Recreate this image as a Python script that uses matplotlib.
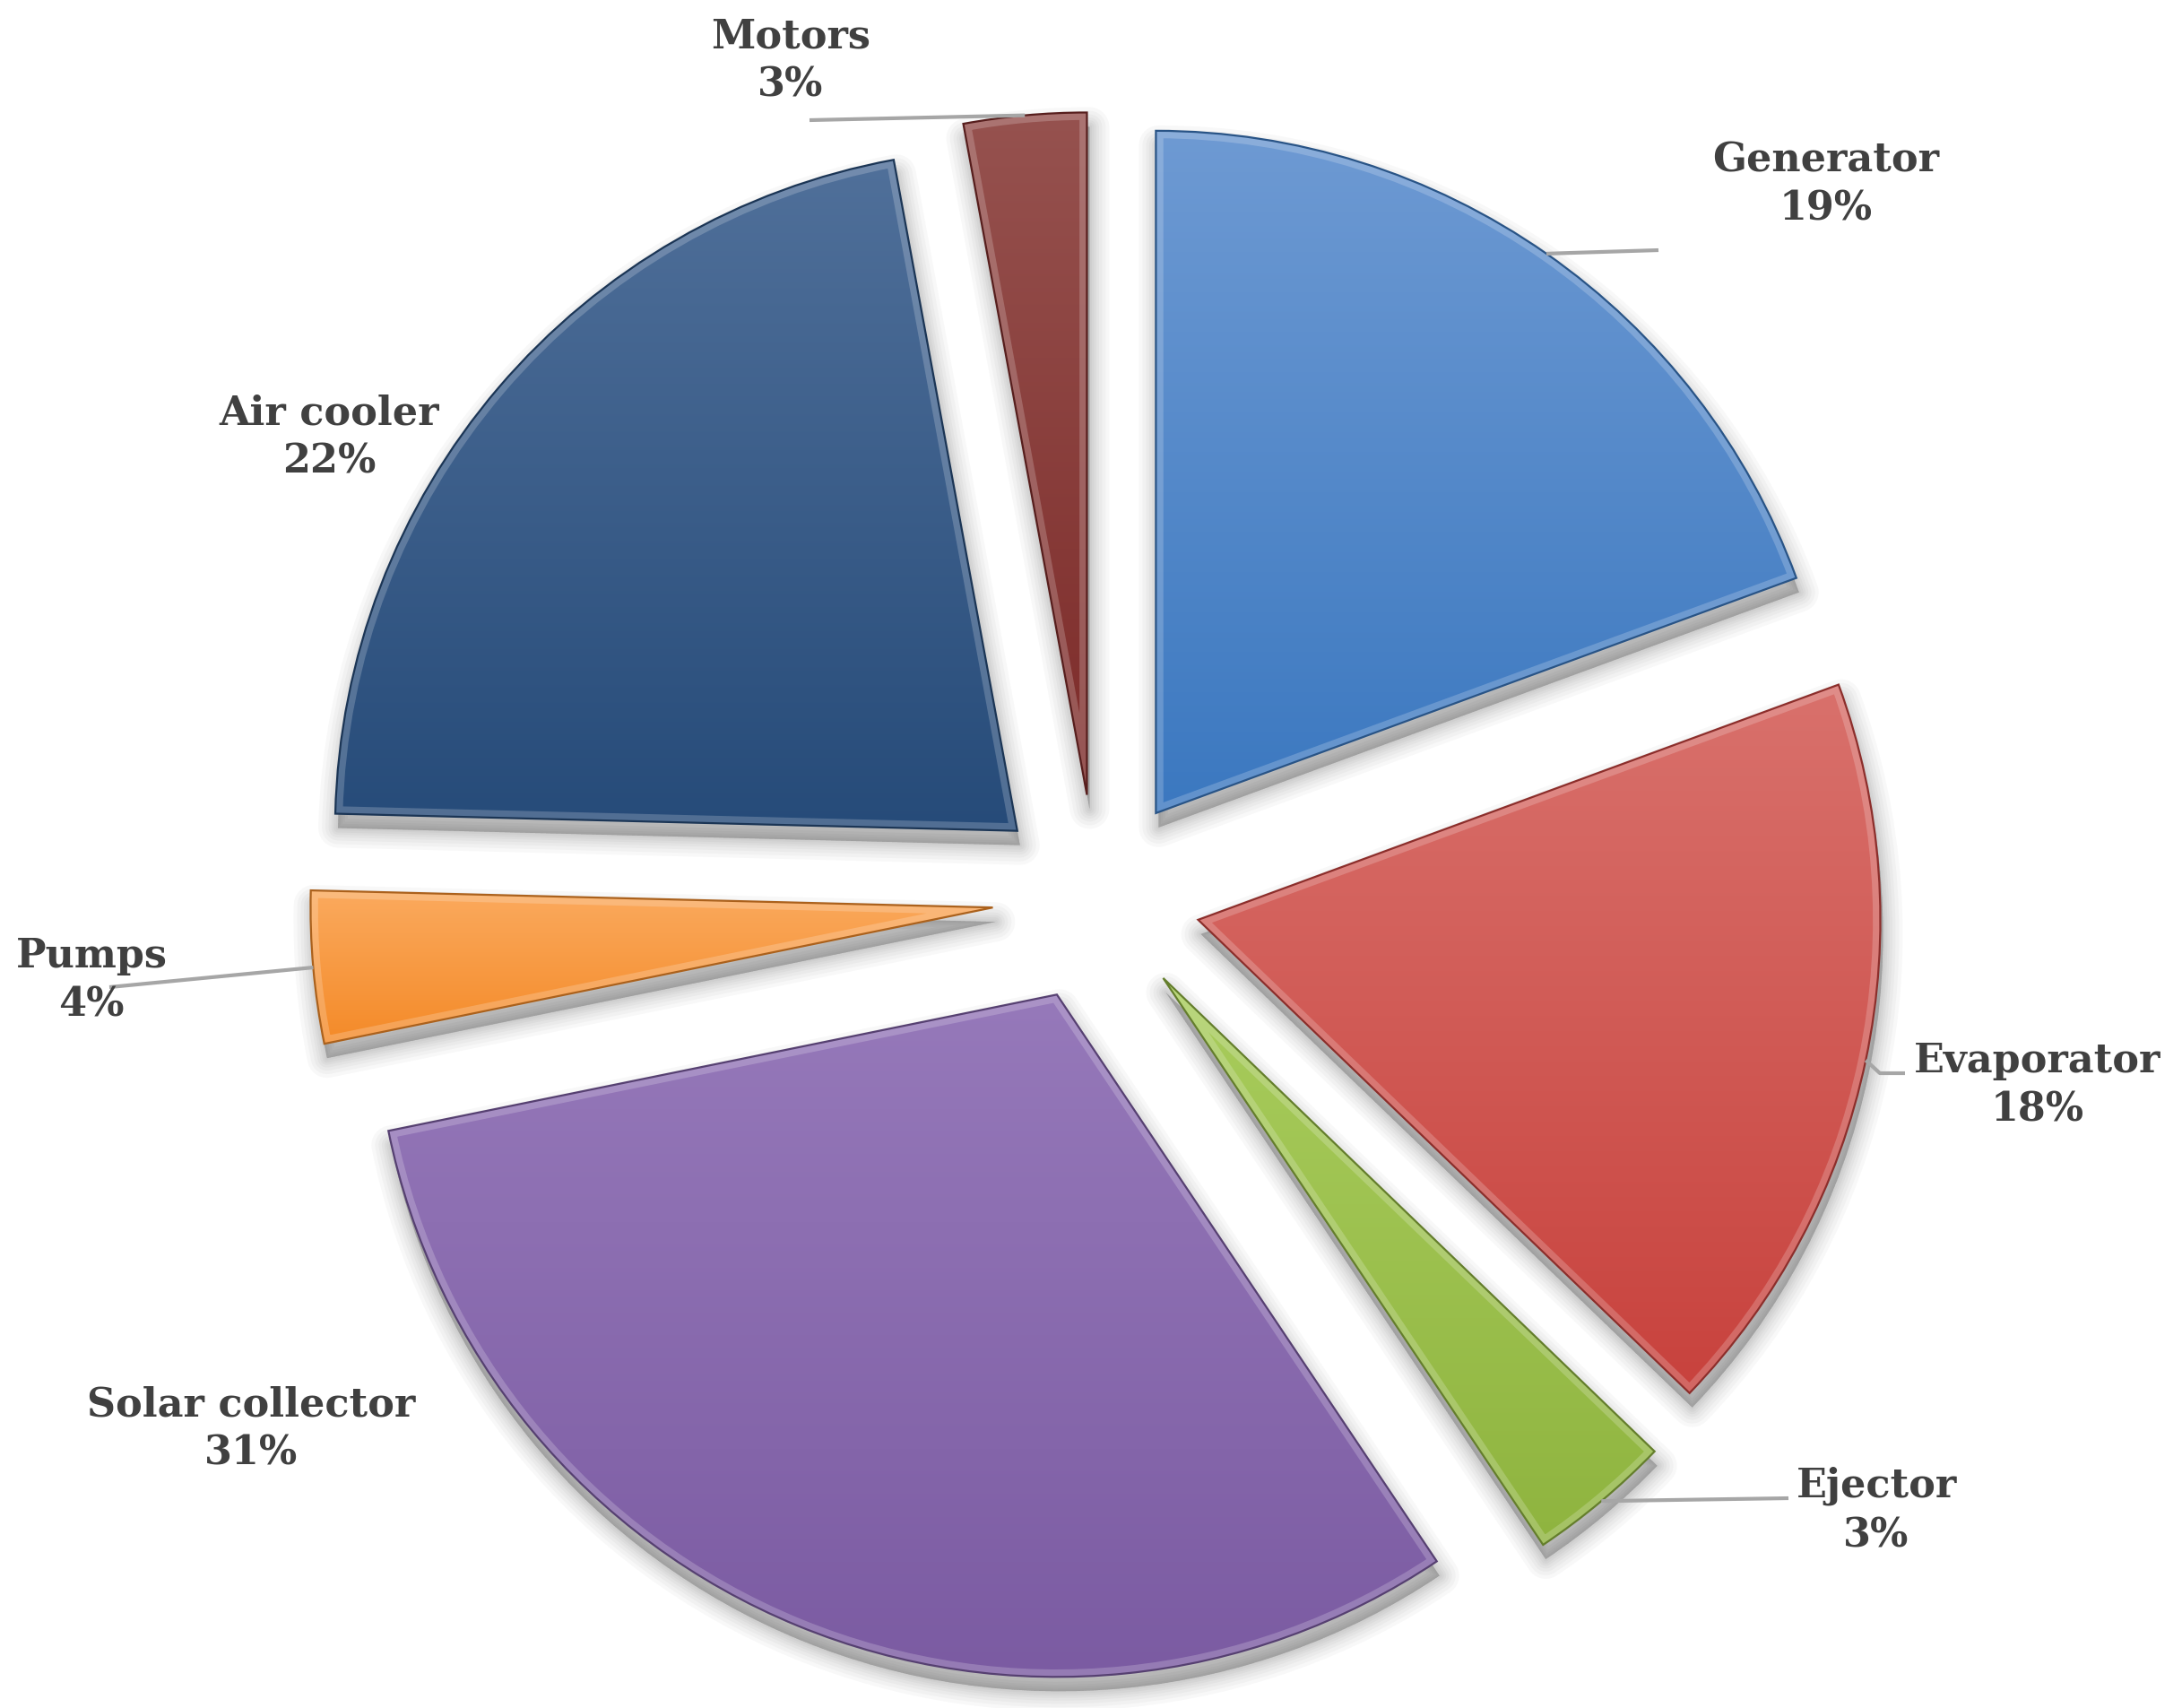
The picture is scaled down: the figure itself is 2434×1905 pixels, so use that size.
import numpy as np
import matplotlib
matplotlib.use("Agg")
from matplotlib import pyplot as plt
from matplotlib.patches import Wedge
import matplotlib.colors as mcolors

# data (shares; labels show rounded values)
labels = ["Generator", "Evaporator", "Ejector", "Solar collector", "Pumps", "Air cooler", "Motors"]
shares = [19.4, 17.8, 3.4, 31.2, 3.6, 21.7, 2.9]

# gradient colours per slice (top, bottom)
top_colors = ["#6E9AD3", "#D9716C", "#A9CD5D", "#9679BA", "#FBAA5E", "#50709A", "#96524F"]
bottom_colors = ["#3B78C0", "#C8423D", "#8FB43F", "#7B5BA2", "#F48A28", "#264B79", "#7D2B29"]

W, H = 2434, 1906
fig = plt.figure(figsize=(W / 100, H / 100), dpi=100)
ax = fig.add_axes([0, 0, 1, 1])

# label layout (pixel coords, y measured from top)
label_pos = {
    "Generator": (2037, 206), "Evaporator": (2273, 1211), "Ejector": (2093, 1685),
    "Solar collector": (280, 1594), "Pumps": (102, 1094), "Air cooler": (367, 488),
    "Motors": (882, 68),
}
leader_ends = {
    "Generator": [(1850, 280)],
    "Evaporator": [(2097, 1198), (2125, 1198)],
    "Ejector": [(1995, 1672)],
    "Pumps": [(122, 1102)],
    "Motors": [(903, 135)],
}

radius = 761
center = (1223, H - 1003)
# explode is in data units here (pixels)
wedges, _ = ax.pie(shares, explode=[116] * len(shares), radius=radius, center=center,
                   startangle=90, counterclock=False, colors=bottom_colors,
                   wedgeprops=dict(lw=0))

for i, w in enumerate(wedges):
    cx, cy = w.center
    # soft drop shadow
    for lw in [44, 36, 28, 21, 15, 10, 5, 1]:
        sh = Wedge((cx + 3, cy - 16), w.r, w.theta1, w.theta2, facecolor="black",
                   edgecolor="black", lw=lw * 0.72, alpha=0.028, joinstyle="round", zorder=0.5)
        ax.add_patch(sh)
    w.set_zorder(1)
    # vertical gradient clipped to slice
    bb = w.get_path().get_extents(w.get_patch_transform())
    c1 = np.array(mcolors.to_rgb(top_colors[i]))
    c2 = np.array(mcolors.to_rgb(bottom_colors[i]))
    t = np.linspace(0, 1, 256)[:, None]
    grad = (c1 * (1 - t) + c2 * t)[:, None, :]
    im = ax.imshow(grad, extent=(bb.x0, bb.x1, bb.y0, bb.y1), origin="upper",
                   aspect="auto", zorder=2, interpolation="bilinear")
    im.set_clip_path(w)
    # bevel highlight and outline
    hl = Wedge((cx, cy), w.r, w.theta1, w.theta2, facecolor="none",
               edgecolor="white", lw=12, alpha=0.2, joinstyle="miter", zorder=3)
    ax.add_patch(hl)
    hl.set_clip_path(w)
    ol = Wedge((cx, cy), w.r, w.theta1, w.theta2, facecolor="none",
               edgecolor=tuple(c2 * 0.7), lw=1.6, joinstyle="miter", zorder=3)
    ax.add_patch(ol)

    name = labels[i]
    lx, ly = label_pos[name]
    ax.text(lx, H - ly, f"{name}\n{shares[i]:.0f}%", ha="center", va="center",
            fontsize=32, fontweight="bold", family="DejaVu Serif", color="#404040",
            linespacing=1.35, zorder=5)
    if name in leader_ends:
        mid = np.deg2rad((w.theta1 + w.theta2) / 2)
        pts = [(cx + w.r * np.cos(mid), cy + w.r * np.sin(mid))]
        pts += [(x, H - y) for x, y in leader_ends[name]]
        xs, ys = zip(*pts)
        ax.plot(xs, ys, color="#A6A6A6", lw=3, solid_capstyle="butt", zorder=4)

ax.set_xlim(0, W)
ax.set_ylim(0, H)
ax.axis("off")

fig.savefig("out.png", dpi=100, facecolor="white")
